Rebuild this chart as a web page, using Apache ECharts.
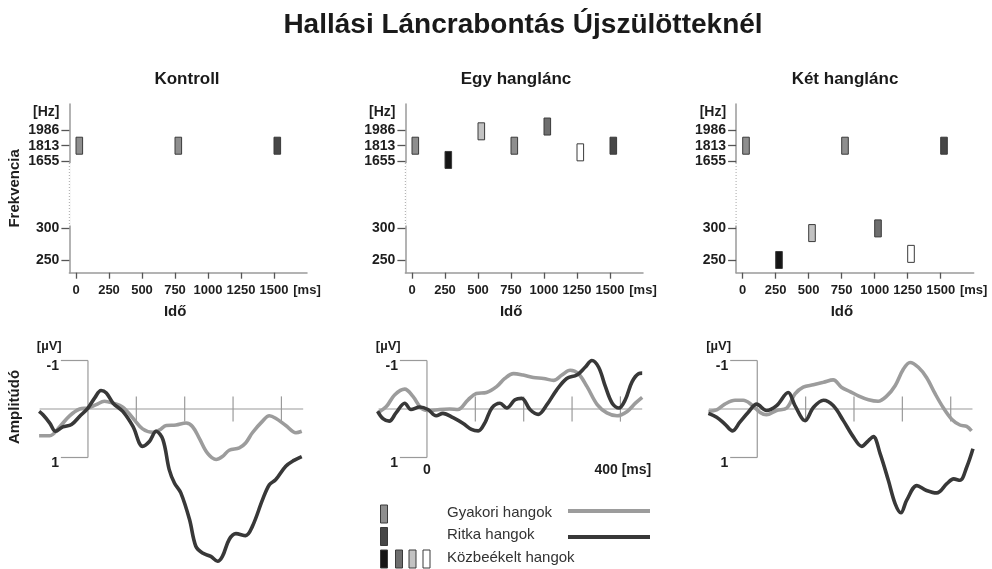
<!DOCTYPE html>
<html><head><meta charset="utf-8">
<script src="https://cdn.jsdelivr.net/npm/echarts@6/dist/echarts.min.js"></script>
<style>html,body{margin:0;padding:0;background:#fff}#c{width:992px;height:569px}</style>
</head><body><div id="c"></div>
<script>
// ---------- data ----------
const toneTimes = [0, 250, 500, 750, 1000, 1250, 1500];           // ms (tone onset)
const toneKinds = ['gyakori','kozbe1','kozbe3','gyakori','kozbe2','kozbe4','ritka'];
const toneDuration = 50;                                           // ms
const kontrollHz = [1813, null, null, 1813, null, null, 1813];
const egyHz      = [1813, 1670, 1970, 1813, 2025, 1745, 1813];
const ketHz      = [1813, 250, 292, 1813, 300, 259, 1813];
const freqTicks  = [250, 300, 1655, 1813, 1986];
const timeTicks  = [0, 250, 500, 750, 1000, 1250, 1500];
const erpTicks   = [100, 200, 300, 400];
const freqBreak  = [400, 1500]; // collapsed Hz range on frequency axis

const kontrollGyakori = [[-101,0.55],[-79,0.55],[-58,0.36],[-38,0.14],[-17,0],[0,-0.02],[17,-0.09],[34,-0.16],[52,-0.12],[72,-0.04],[93,0.19],[113,0.41],[134,0.48],[148,0.43],[162,0.34],[182,0.33],[203,0.29],[216,0.36],[230,0.6],[247,0.91],[265,1.04],[278,0.98],[292,0.85],[313,0.8],[326,0.7],[340,0.49],[361,0.25],[375,0.14],[388,0.19],[409,0.34],[430,0.49],[442,0.46]];
const kontrollRitka = [[-101,0.05],[-93,0.12],[-79,0.29],[-67,0.46],[-52,0.37],[-34,0.32],[-17,0.15],[0,-0.02],[14,-0.23],[27,-0.38],[38,-0.33],[52,-0.12],[72,0.05],[93,0.36],[113,0.77],[127,0.67],[141,0.46],[155,0.63],[168,1.25],[179,1.53],[192,1.73],[210,2.28],[223,2.83],[237,2.97],[254,3.04],[268,3.14],[278,3.04],[292,2.69],[306,2.57],[326,2.61],[340,2.42],[361,1.87],[375,1.56],[388,1.46],[409,1.18],[426,1.06],[442,0.98]];
const egyGyakori = [[-102,0.08],[-84,-0.05],[-67,-0.29],[-46,-0.41],[-29,-0.26],[-12,-0.02],[6,0.03],[26,0.01],[47,0],[64,0.01],[85,-0.19],[102,-0.32],[123,-0.34],[144,-0.46],[161,-0.63],[179,-0.73],[199,-0.7],[220,-0.65],[241,-0.63],[262,-0.59],[279,-0.7],[296,-0.8],[313,-0.73],[331,-0.46],[352,-0.09],[372,0.08],[393,0.14],[414,0.05],[431,-0.12],[445,-0.24]];
const egyRitka = [[-102,0.05],[-91,0.2],[-78,0.25],[-64,0.08],[-46,-0.12],[-33,0.01],[-15,-0.04],[2,0.01],[19,0.14],[33,0.09],[54,0.18],[75,0.3],[92,0.42],[106,0.45],[120,0.28],[134,-0.02],[151,-0.12],[165,-0.02],[182,-0.19],[196,-0.22],[213,0.01],[230,0.11],[248,-0.09],[268,-0.39],[289,-0.63],[310,-0.7],[327,-0.86],[341,-1.0],[355,-0.86],[369,-0.46],[383,-0.12],[397,-0.02],[410,-0.19],[424,-0.56],[438,-0.73],[445,-0.74]];
const ketGyakori = [[-101,0.05],[-84,0.02],[-67,-0.1],[-46,-0.18],[-29,-0.18],[-12,-0.09],[6,0.07],[19,0.12],[40,0.03],[61,-0.02],[78,-0.31],[95,-0.45],[116,-0.5],[137,-0.55],[157,-0.6],[174,-0.45],[192,-0.36],[209,-0.27],[230,-0.19],[250,-0.16],[268,-0.27],[285,-0.48],[302,-0.82],[316,-0.96],[333,-0.86],[350,-0.65],[368,-0.31],[385,-0.02],[402,0.21],[419,0.33],[433,0.36],[443,0.45]];
const ketRitka = [[-101,0.09],[-84,0.17],[-67,0.31],[-51,0.45],[-36,0.27],[-19,0.07],[-1,-0.1],[19,0.03],[40,-0.07],[64,-0.34],[78,-0.07],[99,0.24],[116,-0.03],[137,-0.18],[157,-0.07],[178,0.24],[199,0.58],[216,0.77],[230,0.65],[240,0.57],[254,0.92],[271,1.47],[285,1.95],[297,2.14],[309,1.88],[330,1.58],[350,1.68],[371,1.73],[392,1.54],[406,1.44],[419,1.47],[433,1.2],[446,0.82]];

const panelTitles = ['Kontroll', 'Egy hanglánc', 'Két hanglánc'];
const legendLabels = ['Gyakori hangok', 'Ritka hangok', 'Közbeékelt hangok'];

// ---------- styles ----------
const FONT = '"Liberation Sans", Arial, Helvetica, sans-serif';
const kindColor = {gyakori:'#8e8e8e', ritka:'#474747', kozbe1:'#151515', kozbe2:'#6e6e6e', kozbe3:'#c2c2c2', kozbe4:'#ffffff'};
const lineColor = {gyakori:'#9c9c9c', ritka:'#383838'};
const axisGray = '#9a9a9a';

function hzToU(hz){
  const l = Math.log10(hz);
  return hz >= freqBreak[1] ? l - Math.log10(freqBreak[1]/freqBreak[0]) : l;
}
const hzLabelU = 2.7696;
const freqU = freqTicks.map(hzToU);

const topLefts = [69.4, 405.4, 736.1];
const botLefts = [39.6, 378.6, 708.9];

const grids = [], xAxes = [], yAxes = [], series = [];
topLefts.forEach((l,i)=>{
  grids.push({left:l, top:104, width:237.6, height:168.7, outerBoundsMode:'none', containLabel:false});
});
botLefts.forEach((l,i)=>{
  grids.push({left:l, top:350.8, width:266, height:218.25, outerBoundsMode:'none', containLabel:false});
});

const boldLabel = {fontFamily:FONT, fontWeight:'bold', color:'#1e1e1e'};
topLefts.forEach((l,i)=>{
  xAxes.push({
    type:'value', gridIndex:i, min:-50, max:1750,
    axisLine:{show:true, onZero:false, lineStyle:{color:axisGray, width:1.5}},
    axisTick:{show:true, customValues:timeTicks, length:6, lineStyle:{color:'#555', width:1.3}},
    axisLabel:Object.assign({customValues:timeTicks.concat([1750]), fontSize:13, margin:11,
      formatter:v=> v===1750 ? '[ms]' : String(v)}, boldLabel),
    splitLine:{show:false},
    name:'Idő', nameLocation:'middle', nameGap:32,
    nameTextStyle:{fontFamily:FONT, fontWeight:'bold', fontSize:15, color:'#1e1e1e', padding:[0,26,0,0]}
  });
  yAxes.push({
    type:'value', gridIndex:i, min:2.3661, max:2.7889,
    axisLine:{show:true, onZero:false, lineStyle:{color:axisGray, width:1.5}},
    axisTick:{show:true, customValues:freqU, length:8, lineStyle:{color:'#555', width:1.3}},
    axisLabel:Object.assign({customValues:freqU.concat([hzLabelU]), fontSize:14, margin:10,
      formatter:v=>{
        if (Math.abs(v-hzLabelU)<1e-6) return '[Hz]';
        const k = freqU.findIndex(u=>Math.abs(u-v)<1e-6);
        return k>=0 ? String(freqTicks[k]) : '';
      }}, boldLabel),
    splitLine:{show:false},
    name: i===0 ? 'Frekvencia' : '', nameLocation:'middle', nameGap:47, nameRotate:90,
    nameTextStyle:{fontFamily:FONT, fontWeight:'bold', fontSize:15, color:'#1e1e1e'}
  });
});
botLefts.forEach((l,i)=>{
  xAxes.push({type:'value', gridIndex:3+i, min:-100, max:450, show:false});
  yAxes.push({type:'value', gridIndex:3+i, min:-1.2, max:3.3, inverse:true, show:false});
});

// tone rectangles
[kontrollHz, egyHz, ketHz].forEach((arr, p)=>{
  const data = [], kinds = [];
  arr.forEach((hz,k)=>{ if (hz!=null){ data.push([toneTimes[k], hzToU(hz)]); kinds.push(toneKinds[k]); } });
  series.push({
    type:'custom', xAxisIndex:p, yAxisIndex:p, data, silent:true,
    renderItem:(params, api)=>{
      const t = api.value(0), u = api.value(1);
      const a = api.coord([t,u]), b = api.coord([t+toneDuration,u]);
      const h = 17;
      return {type:'rect', shape:{x:a[0], y:a[1]-h/2, width:b[0]-a[0], height:h},
        style:{fill:kindColor[kinds[params.dataIndex]], stroke:'#3a3a3a', lineWidth:1}};
    }
  });
  // broken part of frequency axis
  series.push({
    type:'custom', xAxisIndex:p, yAxisIndex:p, data:[[0,0]], silent:true, z:3,
    renderItem:(params, api)=>{
      const a = api.coord([-50, hzToU(1640)]), b = api.coord([-50, hzToU(305)]);
      return {type:'group', children:[
        {type:'line', shape:{x1:a[0],y1:a[1],x2:b[0],y2:b[1]}, style:{stroke:'#fff', lineWidth:3}},
        {type:'line', shape:{x1:a[0],y1:a[1],x2:b[0],y2:b[1]}, style:{stroke:'#b5b5b5', lineWidth:1.2, lineDash:[1,2]}}
      ]};
    }
  });
});

// ERP frames + curves
const erpSets = [[kontrollGyakori, kontrollRitka],[egyGyakori, egyRitka],[ketGyakori, ketRitka]];
erpSets.forEach((set, p)=>{
  const ai = 3+p;
  series.push({
    type:'custom', xAxisIndex:ai, yAxisIndex:ai, data:[[0,0]], silent:true, z:1,
    renderItem:(params, api)=>{
      const L = (p1,p2)=>({type:'line', shape:{x1:p1[0],y1:p1[1],x2:p2[0],y2:p2[1]}, style:{stroke:axisGray, lineWidth:1.2}});
      const T = (pt, text, align, dy, size)=>({type:'text', x:pt[0], y:pt[1]+dy,
        style:{text, fontFamily:FONT, fontWeight:'bold', fontSize:size, fill:'#1e1e1e', align, verticalAlign:'middle'}});
      const c = api.coord;
      const ch = [
        L(c([0,-1]), c([0,1])),
        L(c([-56,-1]), c([0,-1])),
        L(c([-56,1]), c([0,1])),
        L(c([-100,0]), c([445,0]))
      ];
      erpTicks.forEach(t=>ch.push(L(c([t,-0.26]), c([t,0.26]))));
      ch.push(T(c([-60,-1]), '-1', 'right', 6, 14));
      ch.push(T(c([-60,1]), '1', 'right', 6, 14));
      ch.push(T(c([-80,-1]), '[µV]', 'center', -14, 13));
      if (p===1){
        ch.push(T(c([0,1]), '0', 'center', 13, 14));
        ch.push(T(c([405,1]), '400 [ms]', 'center', 13, 14));
      }
      return {type:'group', children:ch};
    }
  });
  series.push({type:'line', xAxisIndex:ai, yAxisIndex:ai, data:set[0], showSymbol:false, smooth:0.35,
    lineStyle:{color:lineColor.gyakori, width:3.6}, silent:true, z:4});
  series.push({type:'line', xAxisIndex:ai, yAxisIndex:ai, data:set[1], showSymbol:false, smooth:0.35,
    lineStyle:{color:lineColor.ritka, width:3.6}, silent:true, z:5});
});

// ---------- texts & legend ----------
const titleCenters = [187, 516, 845];
const graphic = [
  {type:'text', x:523, y:25, style:{text:'Hallási Láncrabontás Újszülötteknél', fontFamily:FONT, fontWeight:'bold', fontSize:28, fill:'#1a1a1a', align:'center', verticalAlign:'middle'}},
  {type:'text', x:15, y:407, rotation:Math.PI/2, style:{text:'Amplitúdó', fontFamily:FONT, fontWeight:'bold', fontSize:15, fill:'#1e1e1e', align:'center', verticalAlign:'middle'}}
];
panelTitles.forEach((t,i)=>graphic.push({type:'text', x:titleCenters[i], y:79,
  style:{text:t, fontFamily:FONT, fontWeight:'bold', fontSize:17, fill:'#1a1a1a', align:'center', verticalAlign:'middle'}}));
const rectStyle = k=>({fill:kindColor[k], stroke:'#3a3a3a', lineWidth:1});
graphic.push({type:'rect', shape:{x:380.5, y:505, width:7, height:18}, style:rectStyle('gyakori')});
graphic.push({type:'rect', shape:{x:380.5, y:527.5, width:7, height:18}, style:rectStyle('ritka')});
[['kozbe1',380.5],['kozbe2',395.5],['kozbe3',409],['kozbe4',423]].forEach(([k,x])=>
  graphic.push({type:'rect', shape:{x, y:550, width:7, height:18}, style:rectStyle(k)}));
[513, 535, 558].forEach((y,i)=>graphic.push({type:'text', x:447, y, style:{text:legendLabels[i], fontFamily:FONT, fontSize:15, fill:'#333', align:'left', verticalAlign:'middle'}}));
graphic.push({type:'line', shape:{x1:568,y1:511,x2:650,y2:511}, style:{stroke:lineColor.gyakori, lineWidth:4}});
graphic.push({type:'line', shape:{x1:568,y1:537,x2:650,y2:537}, style:{stroke:lineColor.ritka, lineWidth:4}});

const chart = echarts.init(document.getElementById('c'));
chart.setOption({
  animation:false, backgroundColor:'#fff',
  grid:grids, xAxis:xAxes, yAxis:yAxes, series, graphic
});
</script></body></html>
